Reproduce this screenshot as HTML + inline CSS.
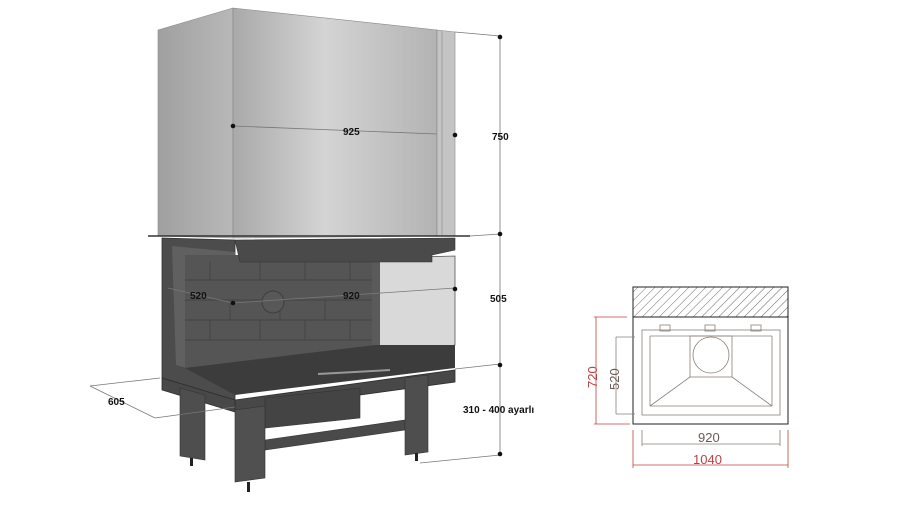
<!DOCTYPE html>
<html><head><style>
html,body{margin:0;padding:0;background:#fff;}
svg text{font-family:"Liberation Sans",sans-serif;}
</style></head><body>
<svg width="899" height="500" viewBox="0 0 899 500" xmlns="http://www.w3.org/2000/svg">
<defs>
<linearGradient id="hf" x1="0" x2="1" y1="0" y2="0">
<stop offset="0" stop-color="#a9a9a9"/><stop offset="0.45" stop-color="#d4d4d4"/><stop offset="1" stop-color="#b3b3b3"/>
</linearGradient>
<linearGradient id="hl" x1="0" x2="1"><stop offset="0" stop-color="#a0a0a0"/><stop offset="1" stop-color="#b8b8b8"/></linearGradient>
</defs>
<!-- hood -->
<polygon points="158,30 233,8 233,238 158,236" fill="url(#hl)" stroke="#888" stroke-width="0.6"/>
<polygon points="233,8 437,30 437,236 233,238" fill="url(#hf)" stroke="#888" stroke-width="0.6"/>
<polygon points="437,30 455,32 455,236 437,236" fill="#c4c4c4" stroke="#888" stroke-width="0.6"/>
<line x1="442" y1="31" x2="442" y2="236" stroke="#999" stroke-width="0.8"/>
<!-- top plate -->
<line x1="148" y1="236" x2="470" y2="236" stroke="#333" stroke-width="1.5"/>
<!-- body left face -->
<polygon points="162,238 235,240 235,400 162,378" fill="#4c4c4c" stroke="#333" stroke-width="0.8"/>
<polygon points="172,246 235,252 235,382 176,365" fill="#606060"/>
<!-- brick wall -->
<polygon points="185,255 375,255 375,355 235,372 185,368" fill="#555"/>
<g stroke="#484848" stroke-width="1.2" fill="none">
<line x1="185" y1="280" x2="375" y2="280"/><line x1="185" y1="300" x2="375" y2="300"/>
<line x1="185" y1="320" x2="375" y2="320"/><line x1="185" y1="340" x2="375" y2="340"/>
<line x1="210" y1="262" x2="210" y2="280"/><line x1="260" y1="262" x2="260" y2="280"/><line x1="305" y1="262" x2="305" y2="280"/><line x1="350" y1="262" x2="350" y2="280"/>
<line x1="230" y1="300" x2="230" y2="320"/><line x1="280" y1="300" x2="280" y2="320"/><line x1="325" y1="300" x2="325" y2="320"/>
<line x1="210" y1="320" x2="210" y2="340"/><line x1="260" y1="320" x2="260" y2="340"/><line x1="305" y1="320" x2="305" y2="340"/><line x1="350" y1="320" x2="350" y2="340"/>
</g>
<circle cx="273" cy="302" r="11" fill="#585858" stroke="#3e3e3e" stroke-width="1"/>
<!-- right glass -->
<polygon points="378,258 455,256 455,345 378,360" fill="#d9d9d9" stroke="#555" stroke-width="0.8"/>
<polygon points="372,258 380,258 380,358 372,360" fill="#5a5a5a"/>
<!-- lintel -->
<polygon points="235,240 455,238 455,250 432,255 432,262 240,262" fill="#4a4a4a" stroke="#333" stroke-width="0.6"/>
<!-- floor -->
<polygon points="185,368 375,345 455,345 455,368 235,395" fill="#3c3c3c"/>
<line x1="318" y1="374" x2="390" y2="370" stroke="#999" stroke-width="2"/>
<!-- base band -->
<polygon points="162,378 235,400 455,370 455,382 235,412 162,390" fill="#484848" stroke="#2e2e2e" stroke-width="0.8"/>
<line x1="235" y1="400" x2="235" y2="412" stroke="#2e2e2e"/>
<!-- legs -->
<polygon points="180,388 205,395 205,460 180,456" fill="#4e4e4e" stroke="#333" stroke-width="0.6"/>
<polygon points="265,398 360,388 360,418 265,428" fill="#444" stroke="#333" stroke-width="0.6"/>
<polygon points="265,440 405,420 405,430 265,450" fill="#4a4a4a" stroke="#333" stroke-width="0.6"/>
<polygon points="405,378 428,375 428,452 405,455" fill="#4e4e4e" stroke="#333" stroke-width="0.6"/>
<polygon points="235,410 265,406 265,478 235,482" fill="#505050" stroke="#333" stroke-width="0.6"/>
<rect x="190" y="458" width="3" height="8" fill="#222"/>
<rect x="247" y="482" width="3" height="10" fill="#222"/>
<rect x="415" y="453" width="3" height="8" fill="#222"/>
<!-- dimension lines -->
<g stroke="#777" stroke-width="0.8" fill="none">
<line x1="233" y1="126" x2="437" y2="134"/>
<line x1="500" y1="36" x2="500" y2="455"/>
<line x1="455" y1="32" x2="500" y2="36"/>
<line x1="470" y1="236" x2="500" y2="234"/>
<line x1="455" y1="369" x2="500" y2="364"/>
<line x1="420" y1="463" x2="500" y2="455"/>
<line x1="168" y1="288" x2="233" y2="303"/>
<line x1="233" y1="303" x2="455" y2="288"/>
<line x1="90" y1="386" x2="160" y2="378"/>
<line x1="90" y1="386" x2="155" y2="418"/>
<line x1="155" y1="418" x2="235" y2="407"/>
</g>
<g fill="#111">
<circle cx="233" cy="126" r="2.3"/><circle cx="455" cy="135" r="2.3"/>
<circle cx="500" cy="37" r="2.3"/><circle cx="500" cy="234" r="2.3"/>
<circle cx="500" cy="365" r="2.3"/><circle cx="500" cy="454" r="2.3"/>
<circle cx="233" cy="303" r="2.3"/><circle cx="455" cy="289" r="2.3"/>
</g>
<g font-size="10" font-weight="bold" fill="#111">
<text x="343" y="135">925</text>
<text x="492" y="140">750</text>
<text x="490" y="302">505</text>
<text x="190" y="299">520</text>
<text x="343" y="299">920</text>
<text x="108" y="405">605</text>
<text x="463" y="413">310 - 400 ayarlı</text>
</g>
<!-- plan drawing -->
<rect x="633" y="287" width="155" height="137" fill="#fff" stroke="#222" stroke-width="1"/>
<pattern id="hatch" width="6" height="6" patternUnits="userSpaceOnUse" patternTransform="rotate(45)"><line x1="0" y1="0" x2="0" y2="6" stroke="#444" stroke-width="0.8"/></pattern>
<rect x="633" y="287" width="155" height="30" fill="url(#hatch)" stroke="#222" stroke-width="1"/>
<g stroke="#8a7f78" stroke-width="0.8" fill="none">
<rect x="642" y="330" width="138" height="85"/>
<rect x="660" y="325" width="10" height="6"/><rect x="705" y="325" width="10" height="6"/><rect x="751" y="325" width="10" height="6"/>
<line x1="650" y1="336" x2="772" y2="336"/>
<line x1="650" y1="336" x2="650" y2="406"/><line x1="772" y1="336" x2="772" y2="406"/>
<line x1="650" y1="406" x2="772" y2="406"/>
<rect x="690" y="336" width="42" height="41"/>
<circle cx="711" cy="355" r="18"/>
<line x1="690" y1="377" x2="650" y2="406"/><line x1="732" y1="377" x2="772" y2="406"/>
<line x1="616" y1="337" x2="616" y2="414"/><line x1="616" y1="337" x2="635" y2="337"/><line x1="616" y1="414" x2="635" y2="414"/>
<line x1="642" y1="430" x2="642" y2="446"/><line x1="780" y1="430" x2="780" y2="446"/><line x1="642" y1="444" x2="780" y2="444"/>
</g>
<g stroke="#c04040" stroke-width="0.8" fill="none">
<line x1="596" y1="317" x2="596" y2="424"/><line x1="594" y1="317" x2="627" y2="317"/><line x1="594" y1="424" x2="630" y2="424"/>
<line x1="633" y1="430" x2="633" y2="468"/><line x1="788" y1="430" x2="788" y2="468"/><line x1="633" y1="465" x2="788" y2="465"/>
</g>
<text x="0" y="0" font-size="13" fill="#c04040" transform="translate(597,388) rotate(-90)">720</text>
<text x="0" y="0" font-size="13" fill="#6a5a55" transform="translate(619,390) rotate(-90)">520</text>
<text x="698" y="442" font-size="13" fill="#6a5a55">920</text>
<text x="693" y="464" font-size="13" fill="#c04040">1040</text>
</svg>
</body></html>
